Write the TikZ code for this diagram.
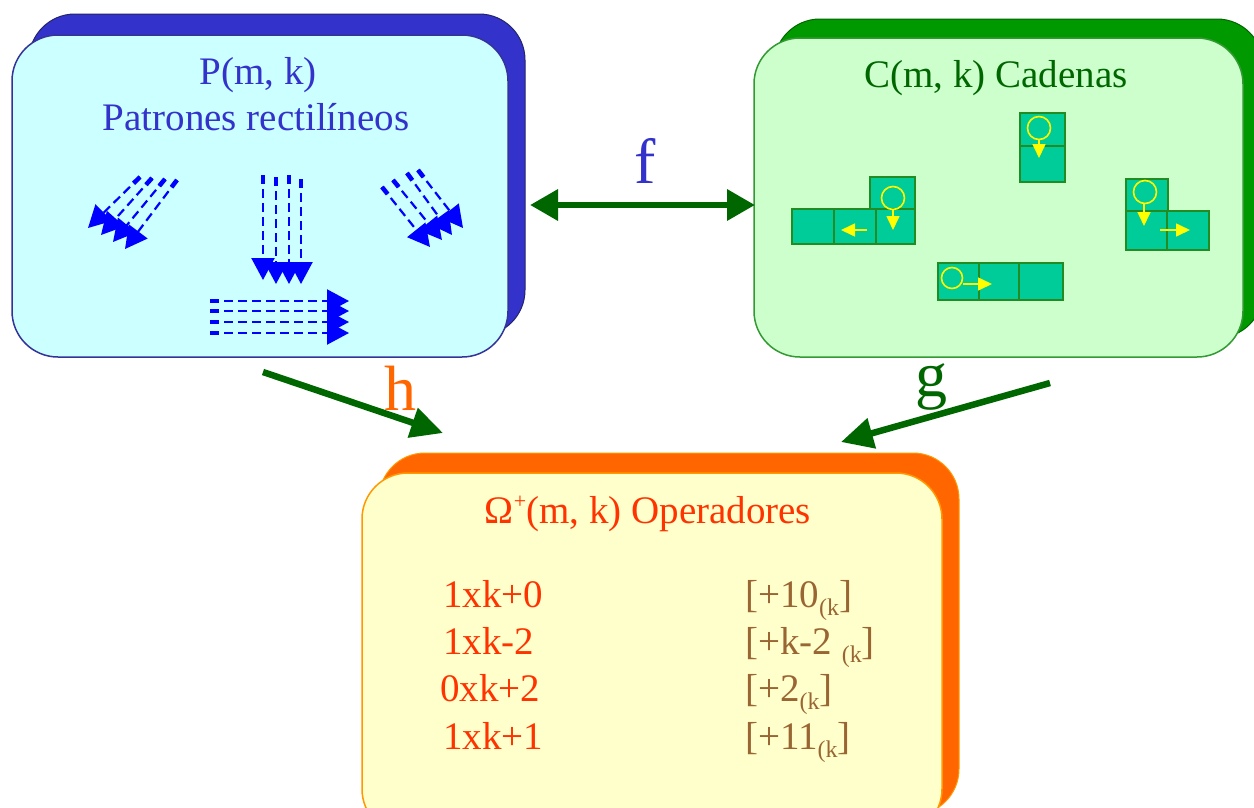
\documentclass[tikz,border=0pt]{standalone}
\usepackage{fontspec}
\setmainfont{Liberation Serif}
\usetikzlibrary{arrows.meta,calc}
\definecolor{bback}{HTML}{3333CC}
\definecolor{bfront}{HTML}{CCFFFF}
\definecolor{bborder}{HTML}{333399}
\definecolor{btext}{HTML}{3333CC}
\definecolor{pblue}{HTML}{0000FF}
\definecolor{gback}{HTML}{009900}
\definecolor{gfront}{HTML}{CCFFCC}
\definecolor{gborder}{HTML}{339933}
\definecolor{gtext}{HTML}{006600}
\definecolor{cellfill}{HTML}{00CC99}
\definecolor{cellborder}{HTML}{228B22}
\definecolor{yel}{HTML}{FFFF00}
\definecolor{oback}{HTML}{FF6600}
\definecolor{ofront}{HTML}{FFFFCC}
\definecolor{oborder}{HTML}{FF9900}
\definecolor{otext}{HTML}{FF3300}
\definecolor{browntxt}{HTML}{996633}
\definecolor{hcol}{HTML}{FF6600}
\definecolor{cgreen}{HTML}{006600}
\newcommand\tfont{\fontsize{39}{44}\selectfont}
\newcommand\lfont{\fontsize{64}{68}\selectfont}
\newcommand\subk[1]{\raisebox{-8pt}{\fontsize{24}{24}\selectfont #1}}
\newcommand\supplus{\raisebox{15pt}{\fontsize{22}{22}\selectfont +}}
\tikzset{
  boxshape/.style={rectangle, rounded corners=46pt, inner sep=0pt},
  pat/.style={draw=pblue, line width=2.2pt, dash pattern=on 9pt off 5pt, -{Triangle[length=22pt,width=23pt]}},
  patstart/.style={draw=pblue, line width=4.5pt},
  cellbox/.style={draw=cellborder, fill=cellfill, line width=1.6pt},
  yline/.style={draw=yel, line width=1.6pt},
  yarrow/.style={draw=yel, line width=1.6pt, -{Triangle[length=14pt,width=13pt]}},
  conn/.style={draw=cgreen, line width=6.5pt},
  title/.style={anchor=base, font=\tfont, inner sep=0pt},
  row/.style={anchor=base west, font=\tfont, inner sep=0pt},
  lab/.style={anchor=base, font=\lfont, inner sep=0pt}
}
\newcommand\pline[2]{\draw[pat] (#1) -- (#2); \draw[patstart] (#1) -- ($(#1)!9pt!(#2)$);}
\begin{document}
\begin{tikzpicture}[x=1pt,y=-1pt]
\useasboundingbox (0,0) rectangle (1254,807);
\clip (0,0) rectangle (1254,807);
\fill[white] (0,0) rectangle (1254,807);

% ---------- blue box ----------
\node[boxshape, fill=bback, draw=bborder!70!black, line width=1pt, minimum width=496pt, minimum height=322pt] (Pback) at (277,175) {};
\node[boxshape, fill=bfront, draw=bborder, line width=1.5pt, minimum width=496pt, minimum height=322pt] (P) at (260,196) {};
\node[title, text=btext] (Pt1) at (258,84) {P(m, k)};
\node[title, text=btext] (Pt2) at (256,130) {Patrones rectilíneos};

% diagonal down-left pattern
\pline{140,177}{88,228}
\pline{152,178}{101,235}
\pline{165,179}{113,242}
\pline{177,180}{125,249}
% vertical pattern
\pline{263,175}{263,280}
\pline{276,177}{276,284}
\pline{289,175}{289,284}
\pline{301,179}{301,284}
% diagonal down-right pattern
\pline{382,187}{430,247}
\pline{393,180}{442,240}
\pline{407,173}{452,235}
\pline{418,170}{463,228}
% horizontal pattern
\pline{210,301}{349,301}
\pline{210,311}{349,311}
\pline{210,322}{349,322}
\pline{210,333}{349,333}

% ---------- green box ----------
\node[boxshape, fill=gback, draw=gtext, line width=1pt, minimum width=489pt, minimum height=319pt] (Cback) at (1018.5,178.5) {};
\node[boxshape, fill=gfront, draw=gborder, line width=1.5pt, minimum width=489pt, minimum height=319pt] (C) at (998.5,197.5) {};
\node[title, text=gtext] (Ct) at (996,87) {C(m, k) Cadenas};

% chain A (top)
\draw[cellbox] (1020,113) rectangle (1065,146);
\draw[cellbox] (1020,146) rectangle (1065,182);
\draw[yline] (1039,128) circle[radius=11.5pt];
\draw[yarrow] (1039,139.5) -- (1039,158);
% chain B (left)
\draw[cellbox] (870,177) rectangle (915,209);
\draw[cellbox] (792,209) rectangle (834,244);
\draw[cellbox] (834,209) rectangle (876,244);
\draw[cellbox] (876,209) rectangle (915,244);
\draw[yline] (893,198) circle[radius=11.5pt];
\draw[yarrow] (893,209.5) -- (893,230);
\draw[yarrow] (867,230) -- (841,230);
% chain C (right)
\draw[cellbox] (1126,179) rectangle (1168,211);
\draw[cellbox] (1126,211) rectangle (1167,250);
\draw[cellbox] (1167,211) rectangle (1209,250);
\draw[yline] (1145,192) circle[radius=11.5pt];
\draw[yarrow] (1144,203.5) -- (1144,226);
\draw[yarrow] (1160,230) -- (1190,230);
% chain D (bottom)
\draw[cellbox] (938,263) rectangle (979,300);
\draw[cellbox] (979,263) rectangle (1019,300);
\draw[cellbox] (1019,263) rectangle (1063,300);
\draw[yline] (952,278) circle[radius=10.5pt];
\draw[yarrow] (962.5,284) -- (992,284);

% ---------- orange box ----------
\node[boxshape, fill=oback, draw=oborder, line width=1pt, minimum width=580pt, minimum height=362pt] (Oback) at (669,634) {};
\node[boxshape, fill=ofront, draw=oborder, line width=1.5pt, minimum width=580pt, minimum height=362pt] (O) at (652,654) {};
\node[title, text=otext] (Ot) at (648,523) {Ω\supplus(m, k) Operadores};
\node[row, text=otext] (r1) at (443,607) {1xk+0};
\node[row, text=otext] (r2) at (443,654) {1xk-2};
\node[row, text=otext] (r3) at (440,701) {0xk+2};
\node[row, text=otext] (r4) at (443,749) {1xk+1};
\node[row, text=browntxt] (s1) at (745,607) {[+10\subk{(k}]};
\node[row, text=browntxt] (s2) at (745,654) {[+k-2 \subk{(k}]};
\node[row, text=browntxt] (s3) at (745,701) {[+2\subk{(k}]};
\node[row, text=browntxt] (s4) at (745,749) {[+11\subk{(k}]};

% ---------- connectors ----------
\coordinate (fL) at (530,205);
\coordinate (fR) at (755,205);
\coordinate (hS) at (263,372);
\coordinate (hE) at (443,433);
\coordinate (gS) at (1050,383);
\coordinate (gE) at (841,442);
\draw[conn, {Triangle[length=28pt,width=30pt]}-{Triangle[length=28pt,width=30pt]}] (fL) -- (fR);
\draw[conn, -{Triangle[length=32pt,width=30pt]}] (hS) -- (hE);
\draw[conn, -{Triangle[length=32pt,width=30pt]}] (gS) -- (gE);
\node[lab, text=btext] (flab) at (645,183) {f};
\node[lab, text=hcol] (hlab) at (400,410) {h};
\node[lab, text=gtext] (glab) at (931,396) {g};
\end{tikzpicture}
\end{document}
